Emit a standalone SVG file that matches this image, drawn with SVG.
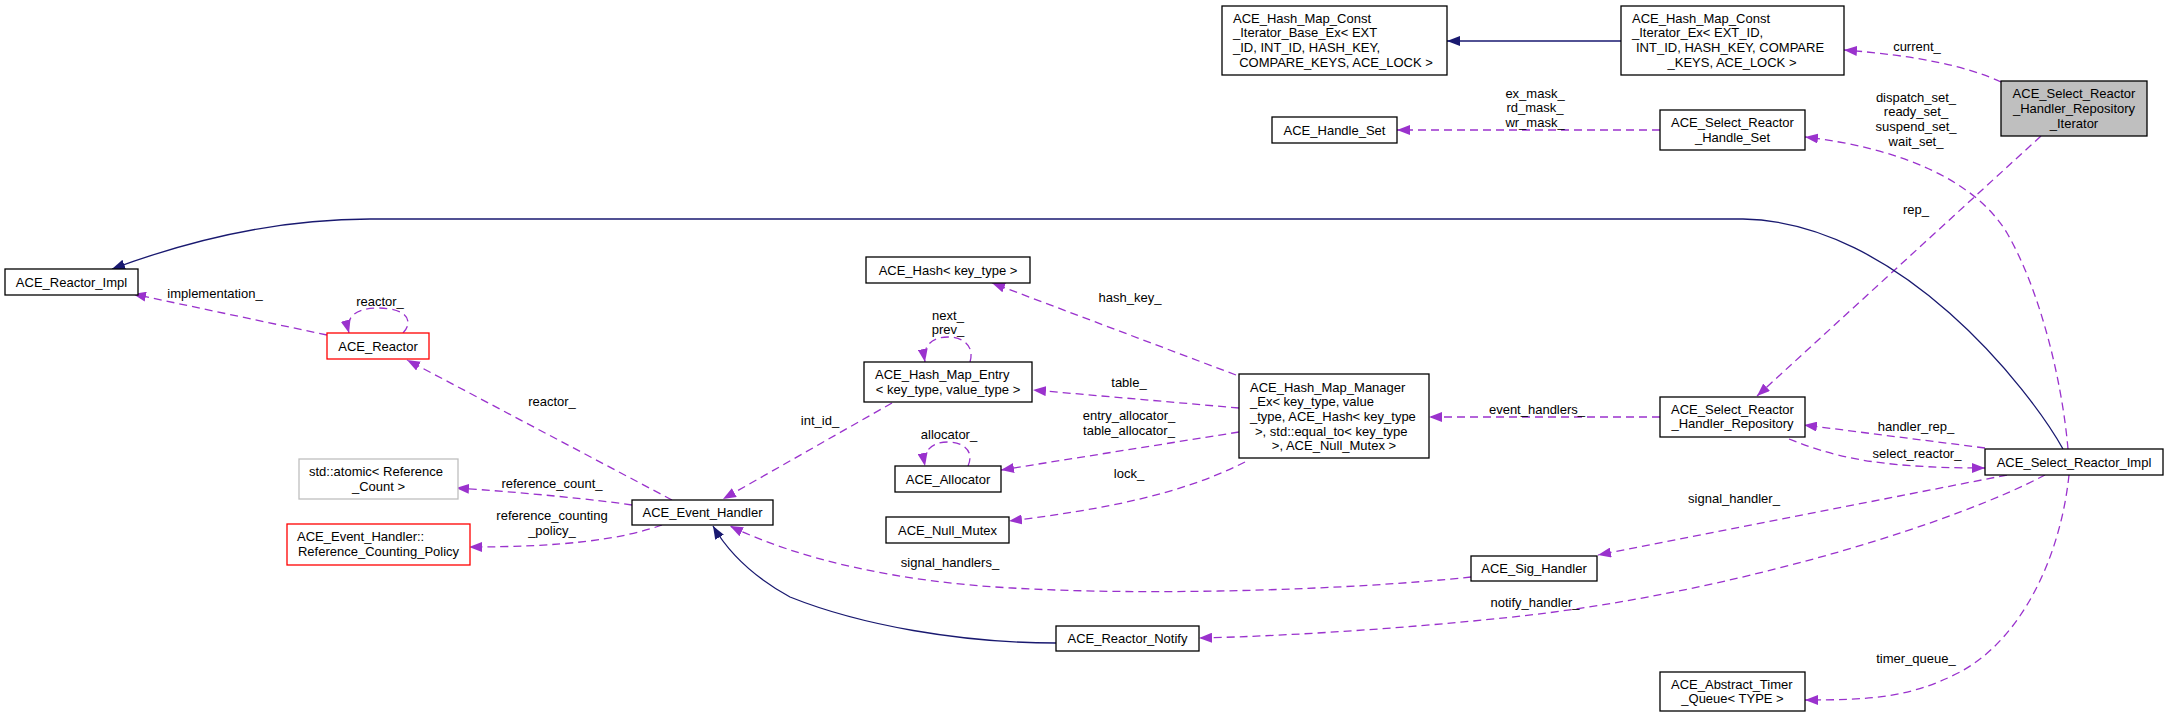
<svg xmlns="http://www.w3.org/2000/svg" width="2168" height="717" viewBox="0 0 2168 717">
<defs>
<style>
text{font-family:"Liberation Sans",Arial,Helvetica,sans-serif;font-size:13px;fill:#000}
.m{text-anchor:middle}
.s{text-anchor:start}
.n{fill:#fff;stroke:#000;stroke-width:1.3}
.red{stroke:#ff0000}
.gray{stroke:#bfbfbf}
.root{fill:#bfbfbf}
.d{fill:none;stroke:#9a32cd;stroke-width:1.3;stroke-dasharray:8,5;marker-end:url(#ap)}
.i{fill:none;stroke:#191970;stroke-width:1.3;marker-end:url(#an)}
</style>
<marker id="ap" viewBox="0 0 13 10" refX="13" refY="5" markerWidth="13" markerHeight="10" markerUnits="userSpaceOnUse" orient="auto"><path d="M0,0 L13,5 L0,10 z" fill="#9a32cd"/></marker>
<marker id="an" viewBox="0 0 13 10" refX="13" refY="5" markerWidth="13" markerHeight="10" markerUnits="userSpaceOnUse" orient="auto"><path d="M0,0 L13,5 L0,10 z" fill="#191970"/></marker>
</defs>
<rect width="2168" height="717" fill="#fff"/>
<g id="edges">
<path class="i" d="M1621,41 L1447,41"/>
<path class="d" d="M2001,82 Q1950,58 1844,50"/>
<path class="d" d="M1660,130 L1397,130"/>
<path class="d" d="M2068,449 C2062,380 2040,290 2007,233 C1975,180 1900,148 1805,137"/>
<path class="d" d="M2041,136 L1757,396"/>
<path class="i" d="M2063,449 C2030,390 1900,222 1743,219 L370,219 C280,219 190,240 112,269"/>
<path class="d" d="M327,335 L133,294"/>
<path class="d" d="M403,333 C415,320 405,308 378,308 C355,308 345,318 349,333"/>
<path class="d" d="M672,500 L407,360"/>
<path class="d" d="M632,505 C600,500 520,492 456,488"/>
<path class="d" d="M662,525 C620,540 560,547 469,547"/>
<path class="d" d="M892,403 L723,499"/>
<path class="d" d="M970,362 C975,345 962,337 948,337 C933,337 922,345 925,362"/>
<path class="d" d="M1236,375 L992,283"/>
<path class="d" d="M1239,408 L1033,390"/>
<path class="d" d="M968,466 C975,450 962,442 948,442 C933,442 922,450 925,466"/>
<path class="d" d="M1239,432 L1001,470"/>
<path class="d" d="M1245,462 C1180,495 1100,510 1009,521"/>
<path class="d" d="M1660,417 L1429,417"/>
<path class="d" d="M1985,448 L1804,425"/>
<path class="d" d="M1789,439 C1830,455 1870,468 1985,468"/>
<path class="d" d="M2007,475 L1598,555"/>
<path class="d" d="M1471,577 C1350,590 1150,596 1012,588 C900,582 800,560 730,526"/>
<path class="d" d="M2045,475 C1960,520 1760,585 1547,613 C1450,625 1300,636 1199,638"/>
<path class="d" d="M2069,475 C2060,560 2020,640 1960,672 C1910,698 1870,700 1805,700"/>
<path class="i" d="M1056,643 C960,643 860,625 790,597 C750,575 727,550 713,526"/>
</g>
<g id="edge-labels">
<text class="m" x="1917" y="50.5">current_</text>
<text class="m" x="1535" y="97.5">ex_mask_</text>
<text class="m" x="1535" y="111.5">rd_mask_</text>
<text class="m" x="1535" y="126.5">wr_mask_</text>
<text class="m" x="1916" y="101.5">dispatch_set_</text>
<text class="m" x="1916" y="115.5">ready_set_</text>
<text class="m" x="1916" y="130.5">suspend_set_</text>
<text class="m" x="1916" y="145.5">wait_set_</text>
<text class="m" x="1916" y="213.5">rep_</text>
<text class="m" x="215" y="297.5">implementation_</text>
<text class="m" x="380" y="305.5">reactor_</text>
<text class="m" x="552" y="405.5">reactor_</text>
<text class="m" x="552" y="487.5">reference_count_</text>
<text class="m" x="552" y="519.5">reference_counting</text>
<text class="m" x="552" y="534.5">_policy_</text>
<text class="m" x="1130" y="301.5">hash_key_</text>
<text class="m" x="948" y="319.5">next_</text>
<text class="m" x="948" y="333.5">prev_</text>
<text class="m" x="1129" y="386.5">table_</text>
<text class="m" x="820" y="424.5">int_id_</text>
<text class="m" x="949" y="438.5">allocator_</text>
<text class="m" x="1129" y="419.5">entry_allocator_</text>
<text class="m" x="1129" y="434.5">table_allocator_</text>
<text class="m" x="1129" y="477.5">lock_</text>
<text class="m" x="1537" y="413.5">event_handlers_</text>
<text class="m" x="1916" y="430.5">handler_rep_</text>
<text class="m" x="1917" y="457.5">select_reactor_</text>
<text class="m" x="1734" y="502.5">signal_handler_</text>
<text class="m" x="950" y="566.5">signal_handlers_</text>
<text class="m" x="1535" y="606.5">notify_handler_</text>
<text class="m" x="1916" y="662.5">timer_queue_</text>
</g>
<g id="node-iterator">
<rect class="n root" x="2001" y="81" width="146" height="55"/>
<text class="m" x="2074" y="97.5">ACE_Select_Reactor</text>
<text class="m" x="2074" y="112.5">_Handler_Repository</text>
<text class="m" x="2074" y="127.5">_Iterator</text>
</g>
<g id="node-const-iterator-ex">
<rect class="n" x="1621" y="6" width="223" height="69"/>
<text class="s" x="1632" y="22.5">ACE_Hash_Map_Const</text>
<text class="s" x="1632" y="36.5">_Iterator_Ex&lt; EXT_ID,</text>
<text class="s" x="1636" y="51.5">INT_ID, HASH_KEY, COMPARE</text>
<text class="m" x="1732" y="66.5">_KEYS, ACE_LOCK &gt;</text>
</g>
<g id="node-const-iterator-base-ex">
<rect class="n" x="1222" y="6" width="225" height="69"/>
<text class="s" x="1233" y="22.5">ACE_Hash_Map_Const</text>
<text class="s" x="1233" y="36.5">_Iterator_Base_Ex&lt; EXT</text>
<text class="s" x="1233" y="51.5">_ID, INT_ID, HASH_KEY,</text>
<text class="m" x="1336" y="66.5">COMPARE_KEYS, ACE_LOCK &gt;</text>
</g>
<g id="node-handle-set">
<rect class="n" x="1272" y="117" width="125" height="26"/>
<text class="m" x="1334.5" y="134.5">ACE_Handle_Set</text>
</g>
<g id="node-select-handle-set">
<rect class="n" x="1660" y="110" width="145" height="40"/>
<text class="s" x="1671" y="126.5">ACE_Select_Reactor</text>
<text class="m" x="1732.5" y="141.5">_Handle_Set</text>
</g>
<g id="node-reactor-impl">
<rect class="n" x="5" y="269" width="133" height="26"/>
<text class="m" x="71.5" y="286.5">ACE_Reactor_Impl</text>
</g>
<g id="node-reactor">
<rect class="n red" x="327" y="333" width="102" height="26"/>
<text class="m" x="378" y="350.5">ACE_Reactor</text>
</g>
<g id="node-hash">
<rect class="n" x="866" y="257" width="164" height="26"/>
<text class="m" x="948" y="274.5">ACE_Hash&lt; key_type &gt;</text>
</g>
<g id="node-hash-map-entry">
<rect class="n" x="864" y="362" width="168" height="40"/>
<text class="s" x="875" y="378.5">ACE_Hash_Map_Entry</text>
<text class="m" x="948" y="393.5">&lt; key_type, value_type &gt;</text>
</g>
<g id="node-hash-map-manager">
<rect class="n" x="1239" y="374" width="190" height="84"/>
<text class="s" x="1250" y="391.5">ACE_Hash_Map_Manager</text>
<text class="s" x="1250" y="405.5">_Ex&lt; key_type, value</text>
<text class="s" x="1250" y="420.5">_type, ACE_Hash&lt; key_type</text>
<text class="s" x="1255" y="435.5">&gt;, std::equal_to&lt; key_type</text>
<text class="m" x="1334" y="449.5">&gt;, ACE_Null_Mutex &gt;</text>
</g>
<g id="node-handler-repository">
<rect class="n" x="1660" y="397" width="145" height="40"/>
<text class="s" x="1671" y="413.5">ACE_Select_Reactor</text>
<text class="m" x="1732.5" y="427.5">_Handler_Repository</text>
</g>
<g id="node-select-reactor-impl">
<rect class="n" x="1985" y="449" width="178" height="26"/>
<text class="m" x="2074" y="466.5">ACE_Select_Reactor_Impl</text>
</g>
<g id="node-atomic">
<rect class="n gray" x="299" y="459" width="159" height="40"/>
<text class="s" x="309" y="475.5">std::atomic&lt; Reference</text>
<text class="m" x="378.5" y="490.5">_Count &gt;</text>
</g>
<g id="node-event-handler">
<rect class="n" x="632" y="500" width="141" height="25"/>
<text class="m" x="702.5" y="517">ACE_Event_Handler</text>
</g>
<g id="node-ref-counting-policy">
<rect class="n red" x="287" y="524" width="183" height="41"/>
<text class="s" x="297" y="541">ACE_Event_Handler::</text>
<text class="m" x="378.5" y="555.5">Reference_Counting_Policy</text>
</g>
<g id="node-allocator">
<rect class="n" x="895" y="466" width="106" height="26"/>
<text class="m" x="948" y="483.5">ACE_Allocator</text>
</g>
<g id="node-null-mutex">
<rect class="n" x="886" y="517" width="123" height="26"/>
<text class="m" x="947.5" y="534.5">ACE_Null_Mutex</text>
</g>
<g id="node-sig-handler">
<rect class="n" x="1471" y="556" width="126" height="25"/>
<text class="m" x="1534" y="573">ACE_Sig_Handler</text>
</g>
<g id="node-reactor-notify">
<rect class="n" x="1056" y="626" width="143" height="25"/>
<text class="m" x="1127.5" y="643">ACE_Reactor_Notify</text>
</g>
<g id="node-timer-queue">
<rect class="n" x="1660" y="672" width="145" height="39"/>
<text class="s" x="1671" y="688.5">ACE_Abstract_Timer</text>
<text class="m" x="1732.5" y="702.5">_Queue&lt; TYPE &gt;</text>
</g>
</svg>
